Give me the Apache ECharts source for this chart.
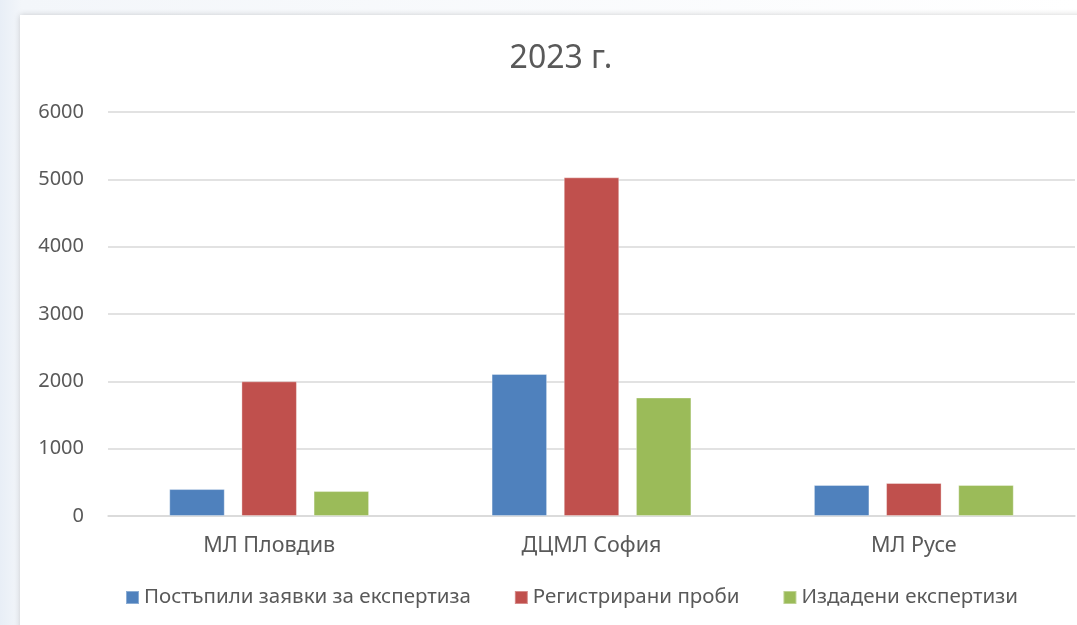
<!DOCTYPE html>
<html>
<head>
<meta charset="utf-8">
<script src="https://cdn.jsdelivr.net/npm/echarts@6/dist/echarts.min.js"></script>
<style>
    html, body { margin: 0; padding: 0; }
    #chart { width: 1077px; height: 625px; }
</style>
</head>
<body>
<div id="chart"></div>
<script>
    const categories = ['МЛ Пловдив', 'ДЦМЛ София', 'МЛ Русе'];
    const seriesNames = ['Постъпили заявки за експертиза', 'Регистрирани проби', 'Издадени експертизи'];
    const received = [400, 2110, 460];
    const registered = [2000, 5030, 490];
    const issued = [370, 1760, 460];
    const yTicks = [0, 1000, 2000, 3000, 4000, 5000, 6000];

    const colors = ['#4F81BD', '#C0504D', '#9BBB59'];
    const font = 'Noto Sans';

    let chart = echarts.init(document.getElementById('chart'));
    const bar = (name, data, i) => ({
        name: name,
        type: 'bar',
        data: data,
        barGap: '30%',
        barCategoryGap: '38%',
        itemStyle: { color: colors[i], borderColor: 'rgba(255,255,255,0.35)', borderWidth: 1 }
    });

    chart.setOption({
        backgroundColor: {
            type: 'linear', x: 0, y: 0, x2: 1, y2: 0,
            colorStops: [{ offset: 0, color: '#e8eef6' }, { offset: 0.02, color: '#f3f6fa' }, { offset: 1, color: '#ffffff' }]
        },
        graphic: [{
            type: 'rect',
            z: -10,
            shape: { x: 20, y: 15, width: 1100, height: 650 },
            style: { fill: '#ffffff', shadowBlur: 6, shadowColor: 'rgba(0,0,0,0.18)' }
        }],
        color: colors,
        textStyle: { fontFamily: font },
        title: {
            text: '2023 г.',
            left: 556,
            textAlign: 'center',
            top: 38,
            textStyle: { fontSize: 32, fontWeight: 'normal', color: '#595959', fontFamily: font }
        },
        legend: {
            bottom: 12,
            left: 120,
            itemWidth: 13,
            itemHeight: 13,
            itemGap: 43,
            icon: 'rect',
            selectedMode: false,
            textStyle: { fontSize: 20.5, color: '#595959', fontFamily: font },
            data: seriesNames
        },
        grid: { left: 108, right: 2, top: 112, bottom: 109 },
        xAxis: {
            type: 'category',
            data: categories,
            axisTick: { show: false },
            axisLine: { lineStyle: { color: '#d9d9d9', width: 1.5 } },
            axisLabel: { fontSize: 21.5, color: '#595959', margin: 19, fontFamily: font }
        },
        yAxis: {
            type: 'value',
            min: yTicks[0],
            max: yTicks[yTicks.length - 1],
            interval: 1000,
            axisLine: { show: false },
            axisTick: { show: false },
            splitLine: { lineStyle: { color: '#d9d9d9', width: 1.5 } },
            axisLabel: { fontSize: 20, color: '#595959', margin: 24, fontFamily: font, formatter: v => String(v) }
        },
        series: [
            bar(seriesNames[0], received, 0),
            bar(seriesNames[1], registered, 1),
            bar(seriesNames[2], issued, 2)
        ]
    });
</script>
</body>
</html>
